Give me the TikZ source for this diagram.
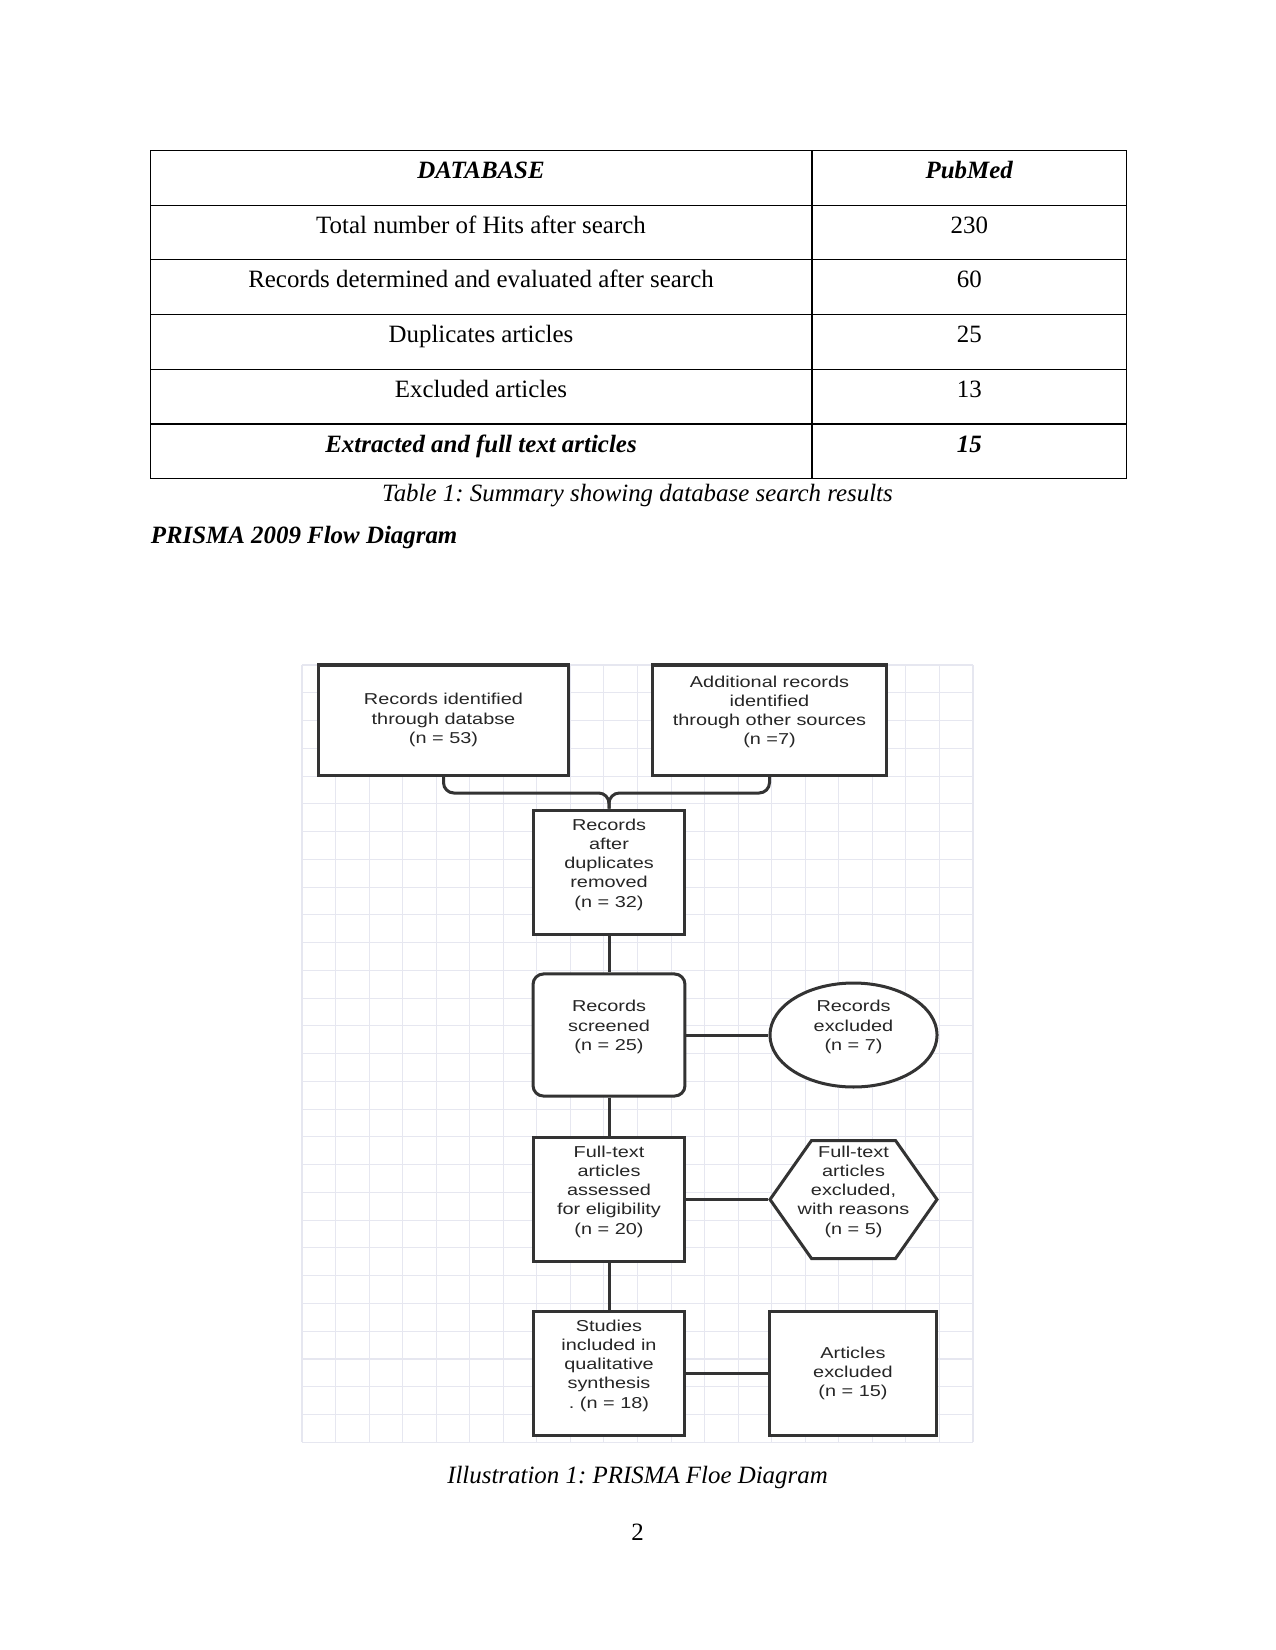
\documentclass[tikz,border=0pt]{standalone}
\usepackage{fontspec}
\setmainfont{Liberation Serif}
\newfontfamily\diagfont[FakeStretch=1.26]{Liberation Sans}
\usetikzlibrary{shapes.geometric}
\definecolor{linegray}{RGB}{51,51,51}
\definecolor{textgray}{RGB}{38,38,38}
\definecolor{gridgray}{RGB}{230,231,240}
\frenchspacing

\begin{document}
\begin{tikzpicture}[x=0.4818pt,y=-0.4818pt,
  box/.style={draw=linegray,line width=1.45pt,fill=white,inner sep=0pt,align=center,
    text=textgray,font=\diagfont\fontsize{7.6}{9.25}\selectfont},
  link/.style={draw=linegray,line width=1.45pt},
  gridline/.style={draw=gridgray,line width=0.5pt},
  tabrule/.style={line width=0.55pt},
  cell/.style={anchor=base,inner sep=0pt,font=\fontsize{12}{14}\selectfont}]
\useasboundingbox (0,0) rectangle (1275,1650);

% Summary table.
\draw[tabrule] (150.4,150.4) rectangle (1126.7,478.7);
\draw[tabrule] (812,150.4) -- (812,478.7);
\foreach \i in {1,...,5}
  \draw[tabrule] (150.4,150.4+\i*54.72) -- (1126.7,150.4+\i*54.72);
\node[cell] (hdb) at (481,178.5) {\textbf{\textit{DATABASE}}};
\node[cell] (hpm) at (969.4,178.5) {\textbf{\textit{PubMed}}};
\foreach \i/\lab/\num in {1/Total number of Hits after search/230,
    2/Records determined and evaluated after search/60,
    3/Duplicates articles/25,4/Excluded articles/13}{
  \node[cell] (lab\i) at (481,178.5+\i*54.72) {\lab};
  \node[cell] (num\i) at (969.4,178.5+\i*54.72) {\num};
}
\node[cell] (lab5) at (481,178.5+5*54.72) {\textbf{\textit{Extracted and full text articles}}};
\node[cell] (num5) at (969.4,178.5+5*54.72) {\textbf{\textit{15}}};
\node[cell] (tabcap) at (637.5,501) {\textit{Table 1: Summary showing database search results}};
\node[cell,anchor=base west] (flowtitle) at (150.4,543.5) {\textbf{\textit{PRISMA 2009 Flow Diagram}}};

% Grid paper behind the flow chart.
\foreach \k in {0,...,20}
  \draw[gridline] (302+\k*33.55,665) -- (302+\k*33.55,1442.3);
\foreach \k in {0,...,28}
  \draw[gridline] (302,665+\k*27.76) -- (973,665+\k*27.76);

% Flow chart boxes.
\node[box,minimum width=120.9pt,minimum height=53pt] (recdb) at (443.5,720)
  {Records identified\\through databse\\(n = 53)};
\node[box,minimum width=113.2pt,minimum height=53pt] (recother) at (769.5,720)
  {Additional records\\identified\\through other sources\\(n =7)\\\mbox{}};
\node[box,minimum width=73.2pt,minimum height=60.2pt] (dupl) at (609,872.5)
  {Records\\after\\duplicates\\removed\\(n = 32)\\\mbox{}};
\node[box,rounded corners=5pt,minimum width=73.2pt,minimum height=58.8pt] (screen) at (609,1035)
  {Records\\screened\\(n = 25)\\\mbox{}};
\node[box,ellipse,inner sep=-2pt,minimum width=80.5pt,minimum height=50.1pt] (recexcl) at (853.5,1035)
  {Records\\excluded\\(n = 7)\\\mbox{}};
\node[box,minimum width=73.2pt,minimum height=59.7pt] (fulltext) at (609,1199.5)
  {Full-text\\articles\\assessed\\for eligibility\\(n = 20)\\\mbox{}};
% hexagon outline, then its text
\filldraw[link,fill=white] (770,1199.5) -- (811.5,1140.5) -- (895.5,1140.5) -- (937,1199.5)
  -- (895.5,1258.5) -- (811.5,1258.5) -- cycle;
\node[box,draw=none,fill=none,minimum width=80.5pt,minimum height=56.8pt] (ftexcl) at (853.5,1199.5)
  {Full-text\\articles\\excluded,\\with reasons\\(n = 5)\\\mbox{}};
\node[box,minimum width=73.2pt,minimum height=60.2pt] (studies) at (609,1373.5)
  {Studies\\included in\\qualitative\\synthesis\\. (n = 18)\\\mbox{}};
\node[box,minimum width=80.9pt,minimum height=60.2pt] (artexcl) at (853,1373.5)
  {Articles\\excluded\\(n = 15)};

% Connectors.
\coordinate (merge) at (609,793);
\draw[link,rounded corners=5pt] (recdb.south) |- (merge) -- (dupl.north);
\draw[link,rounded corners=5pt] (recother.south) |- (merge) -- (dupl.north);
\draw[link] (dupl) -- (screen);
\draw[link] (screen) -- (fulltext);
\draw[link] (fulltext) -- (studies);
\draw[link] (screen) -- (recexcl);
\draw[link] (fulltext) -- (ftexcl);
\draw[link] (studies) -- (artexcl);

\node[cell] (figcap) at (637.5,1483) {\textit{Illustration 1: PRISMA Floe Diagram}};
\node[cell] (pagenum) at (637.5,1540) {2};
\end{tikzpicture}
\end{document}
